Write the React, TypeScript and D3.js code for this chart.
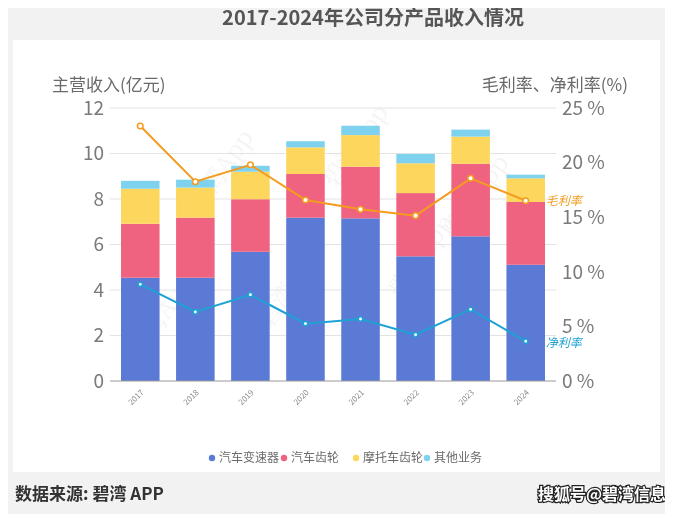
import * as d3 from "d3";
import { useRef, useEffect } from "react";

// 年份
const years = ["2017", "2018", "2019", "2020", "2021", "2022", "2023", "2024"];

// 分产品收入(亿元)
const gearbox = [4.54, 4.54, 5.68, 7.18, 7.15, 5.48, 6.36, 5.11]; // 汽车变速器
const autoGear = [2.37, 2.64, 2.31, 1.92, 2.27, 2.78, 3.19, 2.76]; // 汽车齿轮
const motoGear = [1.54, 1.32, 1.21, 1.17, 1.39, 1.31, 1.19, 1.04]; // 摩托车齿轮
const others = [0.35, 0.35, 0.26, 0.27, 0.41, 0.41, 0.31, 0.16]; // 其他业务

// 毛利率、净利率(%)
const grossMargin = [23.35, 18.25, 19.8, 16.58, 15.72, 15.14, 18.56, 16.51];
const netMargin = [8.85, 6.32, 7.9, 5.25, 5.68, 4.24, 6.56, 3.64];

const seriesNames = ["汽车变速器", "汽车齿轮", "摩托车齿轮", "其他业务"];
const seriesColors = ["#5b7ad6", "#ef6280", "#fdd65e", "#7fd2ee"];

const leftTicks = [0, 2, 4, 6, 8, 10, 12];
const rightTicks = [0, 5, 10, 15, 20, 25];

const FONT = "'Noto Sans CJK SC', 'Noto Sans', sans-serif";

const ChartDraw = () => {
    const chartRef = useRef<SVGSVGElement | null>(null);

    const width = 673;
    const height = 522;
    const margin = { top: 108, bottom: 141, left: 110, right: 117 };
    const boundsHeight = height - margin.top - margin.bottom;

    useEffect(() => {
        const svg = d3.select(chartRef.current);
        svg.selectAll("*").remove();

        // 背景
        svg.append("rect").attr("width", width).attr("height", height).attr("fill", "#f2f2f2");
        svg.append("rect").attr("x", 13).attr("y", 40).attr("width", 647).attr("height", 432).attr("fill", "#ffffff");

        // 水印
        const marks = svg.append("g").attr("font-family", "'Noto Serif CJK SC', 'DejaVu Serif', serif")
            .attr("font-size", 24).attr("fill", "#000").attr("opacity", 0.05);
        const markPos = [[140, 360], [270, 330], [400, 300], [200, 215], [335, 190], [455, 240]];
        markPos.forEach(([x, y]) => {
            marks.append("text").attr("transform", `translate(${x},${y}) rotate(-55)`).text("碧湾App");
        });

        const data = years.map((year, i) => ({
            year,
            s0: gearbox[i], s1: autoGear[i], s2: motoGear[i], s3: others[i],
        }));
        const stacked = d3.stack<any>().keys(["s0", "s1", "s2", "s3"])(data);

        const scaleX = d3.scaleBand()
            .domain(years)
            .range([margin.left, width - margin.right])
            .paddingInner(0.3)
            .paddingOuter(0.2);

        const scaleY = d3.scaleLinear().domain([0, 12]).range([margin.top + boundsHeight, margin.top]);
        const scaleP = d3.scaleLinear().domain([0, 25]).range([margin.top + boundsHeight, margin.top]);

        // 网格线
        svg.append("g")
            .selectAll("line")
            .data(leftTicks.slice(1))
            .enter()
            .append("line")
            .attr("x1", margin.left)
            .attr("x2", width - margin.right)
            .attr("y1", d => scaleY(d))
            .attr("y2", d => scaleY(d))
            .attr("stroke", "#e3e3e3")
            .attr("stroke-width", 1);

        // 左轴
        svg.append("g")
            .selectAll("text")
            .data(leftTicks)
            .enter()
            .append("text")
            .attr("x", margin.left - 6)
            .attr("y", d => scaleY(d))
            .attr("dy", "0.36em")
            .attr("text-anchor", "end")
            .attr("font-family", FONT)
            .attr("font-size", 19)
            .attr("fill", "#7a7a7a")
            .text(d => d);

        // 右轴
        svg.append("g")
            .selectAll("text")
            .data(rightTicks)
            .enter()
            .append("text")
            .attr("x", width - margin.right + 6)
            .attr("y", d => scaleP(d))
            .attr("dy", "0.36em")
            .attr("font-family", FONT)
            .attr("font-size", 19)
            .attr("fill", "#7a7a7a")
            .text(d => `${d} %`);

        // 轴标题
        svg.append("text").attr("x", 52).attr("y", 91).attr("font-family", FONT).attr("font-size", 17)
            .attr("fill", "#6a6a6a").text("主营收入(亿元)");
        svg.append("text").attr("x", 628).attr("y", 91).attr("text-anchor", "end").attr("font-family", FONT)
            .attr("font-size", 17).attr("fill", "#6a6a6a").text("毛利率、净利率(%)");

        // 堆叠柱
        svg.append("g")
            .selectAll("g")
            .data(stacked)
            .enter()
            .append("g")
            .attr("fill", (d, i) => seriesColors[i])
            .selectAll("rect")
            .data(d => d)
            .enter()
            .append("rect")
            .attr("x", d => scaleX(d.data.year) as number)
            .attr("y", d => scaleY(d[1]))
            .attr("width", scaleX.bandwidth())
            .attr("height", d => scaleY(d[0]) - scaleY(d[1]));

        // 底部轴线
        svg.append("line")
            .attr("x1", margin.left).attr("x2", width - margin.right)
            .attr("y1", scaleY(0)).attr("y2", scaleY(0))
            .attr("stroke", "#9a9a9a").attr("stroke-width", 1);

        // x轴标签
        svg.append("g")
            .selectAll("text")
            .data(years)
            .enter()
            .append("text")
            .attr("transform", d => `translate(${(scaleX(d) as number) + scaleX.bandwidth() / 2 + 4},${scaleY(0) + 12}) rotate(-45)`)
            .attr("text-anchor", "end")
            .attr("font-family", FONT)
            .attr("font-size", 8)
            .attr("fill", "#8a8a8a")
            .text(d => d);

        // 折线
        const cx = (i: number) => (scaleX(years[i]) as number) + scaleX.bandwidth() / 2;
        const lines = [
            { values: grossMargin, color: "#f39c1f", label: "毛利率", r: 2.8, dy: 0 },
            { values: netMargin, color: "#1ea2d4", label: "净利率", r: 2.2, dy: 1 },
        ];
        lines.forEach(l => {
            const line = d3.line<number>().x((d, i) => cx(i)).y(d => scaleP(d));
            svg.append("path")
                .datum(l.values)
                .attr("d", line)
                .attr("fill", "none")
                .attr("stroke", l.color)
                .attr("stroke-width", 2);
            svg.append("g")
                .selectAll("circle")
                .data(l.values)
                .enter()
                .append("circle")
                .attr("cx", (d, i) => cx(i))
                .attr("cy", d => scaleP(d))
                .attr("r", l.r)
                .attr("fill", "#fff")
                .attr("stroke", l.color)
                .attr("stroke-width", 1.5);
            const last = l.values.length - 1;
            svg.append("text")
                .attr("x", cx(last) + 20)
                .attr("y", scaleP(l.values[last]) + l.dy)
                .attr("dy", "0.36em")
                .attr("font-family", FONT)
                .attr("font-size", 12)
                .attr("font-style", "italic")
                .attr("fill", l.color)
                .text(l.label);
        });

        // 图例
        const legend = svg.append("g").attr("font-family", FONT).attr("font-size", 12).attr("fill", "#6a6a6a");
        const legendX = [212, 284, 356, 427];
        seriesNames.forEach((name, i) => {
            legend.append("circle").attr("cx", legendX[i]).attr("cy", 458).attr("r", 3.2).attr("fill", seriesColors[i]);
            legend.append("text").attr("x", legendX[i] + 7).attr("y", 458).attr("dy", "0.36em").text(name);
        });

        // 标题
        svg.append("text")
            .attr("x", 373).attr("y", 25)
            .attr("text-anchor", "middle")
            .attr("font-family", FONT)
            .attr("font-size", 20)
            .attr("font-weight", "bold")
            .attr("fill", "#555")
            .text("2017-2024年公司分产品收入情况");

        // 数据来源
        svg.append("text")
            .attr("x", 15).attr("y", 500)
            .attr("font-family", FONT)
            .attr("font-size", 17)
            .attr("font-weight", "bold")
            .attr("fill", "#333")
            .text("数据来源: 碧湾 APP");

        svg.append("text")
            .attr("x", 666).attr("y", 500)
            .attr("text-anchor", "end")
            .attr("font-family", FONT)
            .attr("font-size", 16)
            .attr("font-weight", "bold")
            .attr("fill", "#fff")
            .attr("stroke", "#222")
            .attr("stroke-width", 2.5)
            .attr("paint-order", "stroke")
            .text("搜狐号@碧湾信息");
    }, []);

    return (
        <svg ref={chartRef} width={width} height={height} style={{ display: "block" }}></svg>
    );
};

export default function App() {
    return (
        <div style={{ margin: "-8px" }}>
            <ChartDraw />
        </div>
    );
}
